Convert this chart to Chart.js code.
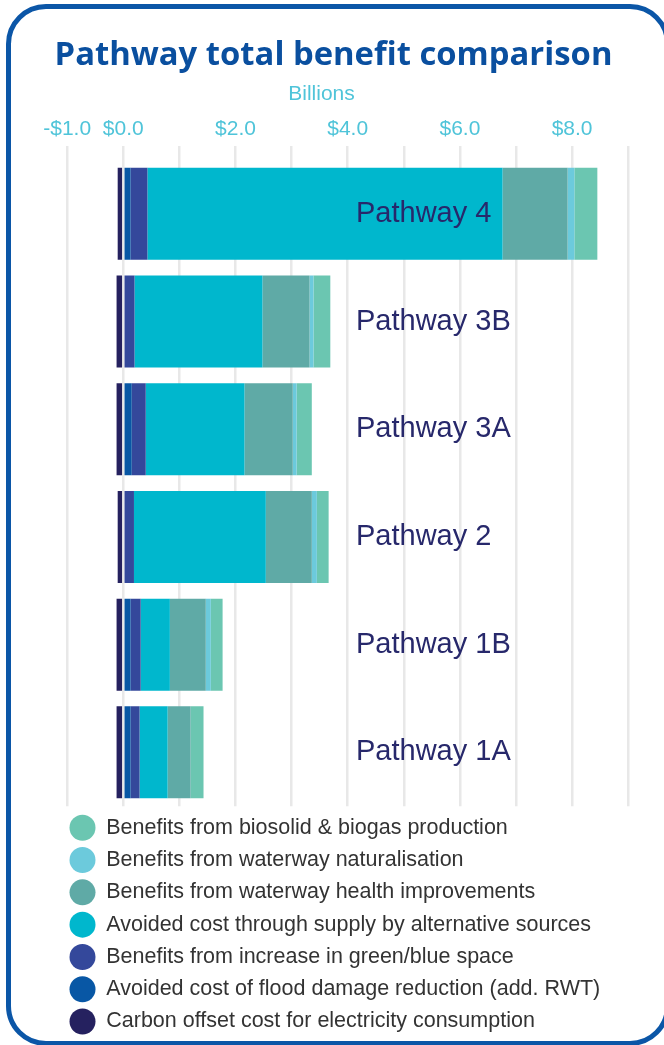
<!DOCTYPE html>
<html>
<head>
<meta charset="utf-8">
<title>Pathway total benefit comparison</title>
<script src="https://cdn.jsdelivr.net/npm/chart.js@4.4.1/dist/chart.umd.min.js"></script>
<style>
  html, body { margin: 0; padding: 0; background: #fff; }
  #wrap { position: relative; width: 664px; height: 1045px; overflow: hidden; }
  #frame {
    position: absolute; left: 6px; top: 4px; width: 664px; height: 1042px;
    box-sizing: border-box; border: 5px solid #0b56a7; border-radius: 40px;
    pointer-events: none;
  }
  #title {
    position: absolute; left: 0; top: 36.9px; width: 667px; text-align: center;
    font: 700 32.8px/1 "Open Sans", sans-serif; color: #0a4f9f; white-space: nowrap;
  }
  #unit {
    position: absolute; left: 221.5px; top: 82.2px; width: 200px; text-align: center;
    font: 21px/1 "Liberation Sans", Arial, sans-serif; color: #4fc4d9;
  }
  canvas { position: absolute; left: 0; top: 0; }
</style>
</head>
<body>
<div id="wrap">
  <canvas id="benefits" width="664" height="1045"></canvas>
  <div id="title">Pathway total benefit comparison</div>
  <div id="unit">Billions</div>
  <div id="frame"></div>
</div>
<script>
// values in $ billions
const pathways = ['Pathway 4', 'Pathway 3B', 'Pathway 3A', 'Pathway 2', 'Pathway 1B', 'Pathway 1A'];
const carbonOffset = [-0.10, -0.12, -0.12, -0.10, -0.12, -0.12];
const floodDamage = [0.13, 0, 0.15, 0, 0.13, 0.13];
const greenBlueSpace = [0.30, 0.20, 0.25, 0.19, 0.18, 0.16];
const alternativeSupply = [6.33, 2.28, 1.76, 2.35, 0.52, 0.50];
const waterwayHealth = [1.16, 0.84, 0.86, 0.82, 0.64, 0.41];
const naturalisation = [0.12, 0.07, 0.07, 0.09, 0.09, 0];
const biosolidBiogas = [0.41, 0.30, 0.27, 0.21, 0.21, 0.23];
const tickLabels = [-1, 0, 2, 4, 6, 8];

Chart.defaults.font.family = '"Liberation Sans", Arial, sans-serif';

const money = v => (v < 0 ? '-$' : '$') + Math.abs(v).toFixed(1);

new Chart(document.getElementById('benefits'), {
  type: 'bar',
  data: {
    labels: pathways,
    datasets: [
      { label: 'Carbon offset cost for electricity consumption', data: carbonOffset, backgroundColor: '#25215f' },
      { label: 'Avoided cost of flood damage reduction (add. RWT)', data: floodDamage, backgroundColor: '#0857a5' },
      { label: 'Benefits from increase in green/blue space', data: greenBlueSpace, backgroundColor: '#34489b' },
      { label: 'Avoided cost through supply by alternative sources', data: alternativeSupply, backgroundColor: '#00b7cd' },
      { label: 'Benefits from waterway health improvements', data: waterwayHealth, backgroundColor: '#5faaa6' },
      { label: 'Benefits from waterway naturalisation', data: naturalisation, backgroundColor: '#6ccadc' },
      { label: 'Benefits from biosolid & biogas production', data: biosolidBiogas, backgroundColor: '#6bc6b1' }
    ]
  },
  options: {
    indexAxis: 'y',
    responsive: false,
    animation: false,
    borderWidth: 0,
    categoryPercentage: 1,
    barPercentage: 0.854,
    layout: { padding: { left: 58.7, right: 35.8, top: 112.8, bottom: 2.7 } },
    scales: {
      x: {
        position: 'top',
        stacked: true,
        min: -1,
        max: 9,
        border: { display: false },
        grid: { color: '#e8e8e8', lineWidth: 2.5, tickLength: 14, tickColor: '#e8e8e8' },
        ticks: {
          stepSize: 1,
          autoSkip: false,
          maxRotation: 0,
          padding: 4,
          color: '#4fc4d9',
          font: { size: 21 },
          callback: v => tickLabels.includes(v) ? money(v) : ''
        }
      },
      y: {
        stacked: true,
        border: { display: false },
        grid: { display: false },
        ticks: {
          mirror: true,
          padding: 288.8,
          z: 1,
          color: '#27286b',
          font: { size: 29 }
        },
        afterFit(scale) {
          scale.width = 8.5;
          scale.paddingTop = 0;
          scale.paddingBottom = 0;
        }
      }
    },
    plugins: {
      title: { display: false },
      tooltip: { enabled: false },
      legend: {
        position: 'bottom',
        align: 'start',
        reverse: true,
        labels: {
          usePointStyle: true,
          pointStyle: 'circle',
          pointStyleWidth: 26,
          boxHeight: 18.4,
          padding: 10.8,
          color: '#333333',
          font: { size: 21.5 }
        }
      }
    }
  }
});
</script>
</body>
</html>
